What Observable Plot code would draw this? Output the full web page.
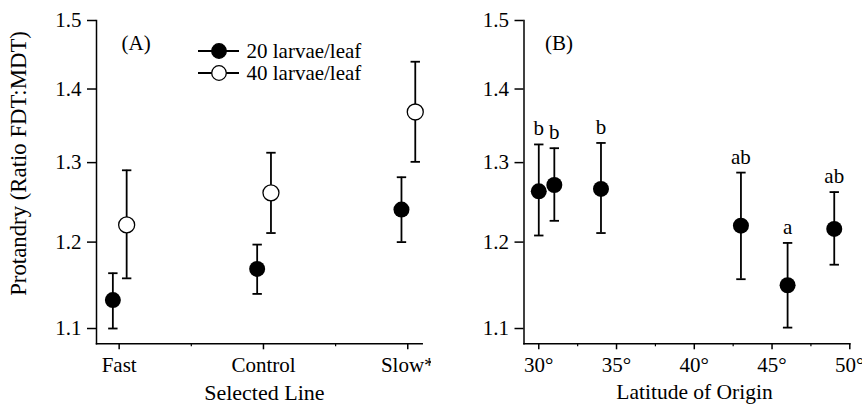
<!DOCTYPE html>
<html><head><meta charset="utf-8">
<script src="https://cdn.jsdelivr.net/npm/d3@7"></script>
<script src="https://cdn.jsdelivr.net/npm/@observablehq/plot@0.6"></script>
<style>
body{margin:0;background:#fff;}
#wrap{position:relative;width:862px;height:404px;display:flex;overflow:hidden;font-family:"Liberation Serif","Times New Roman",serif;background:#fff;}
#wrap > svg{flex:none;display:block;}
#legend{position:absolute;left:0;top:0;pointer-events:none;}
</style></head><body>
<div id="wrap"></div>
<script>
// Panel A data
const lines = ["Fast", "Control", "Slow*"];
const linePos = [1, 2, 3];
const lineMinor = [1.5, 2.5];
const mean20 = [1.132, 1.168, 1.240];
const lo20 = [1.100, 1.139, 1.200];
const hi20 = [1.163, 1.197, 1.281];
const mean40 = [1.221, 1.261, 1.368];
const lo40 = [1.157, 1.211, 1.301];
const hi40 = [1.290, 1.313, 1.439];
const legendLabels = ["20 larvae/leaf", "40 larvae/leaf"];

// Panel B data
const latitudes = [30, 31, 34, 43, 46, 49];
const meanB = [1.263, 1.271, 1.266, 1.220, 1.149, 1.216];
const loB = [1.208, 1.226, 1.211, 1.156, 1.101, 1.173];
const hiB = [1.324, 1.319, 1.326, 1.287, 1.199, 1.262];
const letters = ["b", "b", "b", "ab", "a", "ab"];
const latTicks = [30, 35, 40, 45, 50];
const latMinor = [32.5, 37.5, 42.5, 47.5];

const yTicks = [1.1, 1.2, 1.3, 1.4, 1.5];

const A20 = linePos.map((x, i) => ({x, mean: mean20[i], lo: lo20[i], hi: hi20[i]}));
const A40 = linePos.map((x, i) => ({x, mean: mean40[i], lo: lo40[i], hi: hi40[i]}));
const B = latitudes.map((lat, i) => ({lat, mean: meanB[i], lo: loB[i], hi: hiB[i], letter: letters[i]}));

const cap = {draw(ctx, size) { const r = Math.sqrt(size / Math.PI); ctx.moveTo(-r, 0); ctx.lineTo(r, 0); }};
const font = '"Liberation Serif", "Times New Roman", serif';
const style = {fontFamily: font, fontSize: "21px", color: "black", background: "white", overflow: "visible"};
const yScale = {type: "log", domain: [1.0832, 1.5]};
const fmt = d3.format(".1f");

function errorMarks(data, xField, dx, open) {
  return [
    Plot.ruleX(data, {x: xField, y1: "lo", y2: "hi", dx, stroke: "black", strokeWidth: 1.8}),
    Plot.dot(data, {x: xField, y: "lo", dx, symbol: cap, r: 4.7, fill: "none", stroke: "black", strokeWidth: 1.8}),
    Plot.dot(data, {x: xField, y: "hi", dx, symbol: cap, r: 4.7, fill: "none", stroke: "black", strokeWidth: 1.8}),
    open
      ? Plot.dot(data, {x: xField, y: "mean", dx, r: 8, fill: "white", stroke: "black", strokeWidth: 1.3})
      : Plot.dot(data, {x: xField, y: "mean", dx, r: 8, fill: "black", stroke: "none"})
  ];
}

const plotA = Plot.plot({
  width: 431, height: 404,
  marginLeft: 96, marginRight: 9.3, marginTop: 20, marginBottom: 60.7,
  style,
  x: {type: "linear", domain: [0.843, 3.1]},
  y: yScale,
  marks: [
    Plot.axisY({ticks: yTicks, tickFormat: fmt, tickSize: 9, tickPadding: 6, strokeWidth: 1.5, label: null}),
    Plot.axisX({ticks: linePos, tickFormat: d => lines[linePos.indexOf(d)], tickSize: 6, tickPadding: 7, strokeWidth: 1.5, label: null}),
    Plot.axisX({ticks: lineMinor, tickFormat: () => "", tickSize: 3, strokeWidth: 1.2, label: null}),
    Plot.frame({anchor: "left", strokeWidth: 1.5}),
    Plot.frame({anchor: "bottom", strokeWidth: 1.5}),
    ...errorMarks(A20, "x", -6.3, false),
    ...errorMarks(A40, "x", 7.5, true),
    Plot.text(["(A)"], {frameAnchor: "top-left", dx: 25, dy: 23, textAnchor: "start", lineAnchor: "middle"}),
    Plot.text(["Selected Line"], {frameAnchor: "bottom", dx: 5, dy: 49.5, textAnchor: "middle", lineAnchor: "middle", fontSize: 22})
    ,
    Plot.text(["Protandry (Ratio FDT:MDT)"], {frameAnchor: "left", rotate: -90, dx: -78, dy: -18.7, textAnchor: "middle", lineAnchor: "middle", fontSize: 22.8})
  ]
});

const plotB = Plot.plot({
  width: 431, height: 404,
  marginLeft: 92.5, marginRight: 12.7, marginTop: 20, marginBottom: 60.7,
  style,
  x: {type: "linear", domain: [29.05, 50]},
  y: yScale,
  marks: [
    Plot.axisY({ticks: yTicks, tickFormat: fmt, tickSize: 9, tickPadding: 6, strokeWidth: 1.5, label: null}),
    Plot.axisX({ticks: latTicks, tickFormat: d => d + "°", tickSize: 6, tickPadding: 7, strokeWidth: 1.5, label: null}),
    Plot.axisX({ticks: latMinor, tickFormat: () => "", tickSize: 3, strokeWidth: 1.2, label: null}),
    Plot.frame({anchor: "left", strokeWidth: 1.5}),
    Plot.frame({anchor: "bottom", strokeWidth: 1.5}),
    ...errorMarks(B, "lat", 0, false),
    Plot.text(B, {x: "lat", y: "hi", text: "letter", dy: -9, lineAnchor: "bottom"}),
    Plot.text(["(B)"], {frameAnchor: "top-left", dx: 21, dy: 23, textAnchor: "start", lineAnchor: "middle"}),
    Plot.text(["Latitude of Origin"], {frameAnchor: "bottom", dx: 7.6, dy: 48.5, textAnchor: "middle", lineAnchor: "middle", fontSize: 21.5})
  ]
});

const wrap = document.getElementById("wrap");
wrap.appendChild(plotA);
wrap.appendChild(plotB);

// Legend (inside panel A)
const legend = d3.create("svg").attr("id", "legend").attr("width", 862).attr("height", 404)
  .style("font-family", font).style("font-size", "21px");
const rows = legend.selectAll("g").data(legendLabels).join("g")
  .attr("transform", (d, i) => `translate(198,${51 + i * 22})`);
rows.append("line").attr("x1", 0).attr("x2", 41).attr("stroke", "black").attr("stroke-width", 2);
rows.append("circle").attr("cx", 21).attr("r", 7.3)
  .attr("fill", (d, i) => i === 0 ? "black" : "white")
  .attr("stroke", "black").attr("stroke-width", 1.3);
rows.append("text").attr("x", 48.5).attr("dy", "0.32em").text(d => d);
wrap.appendChild(legend.node());
</script>
</body></html>
